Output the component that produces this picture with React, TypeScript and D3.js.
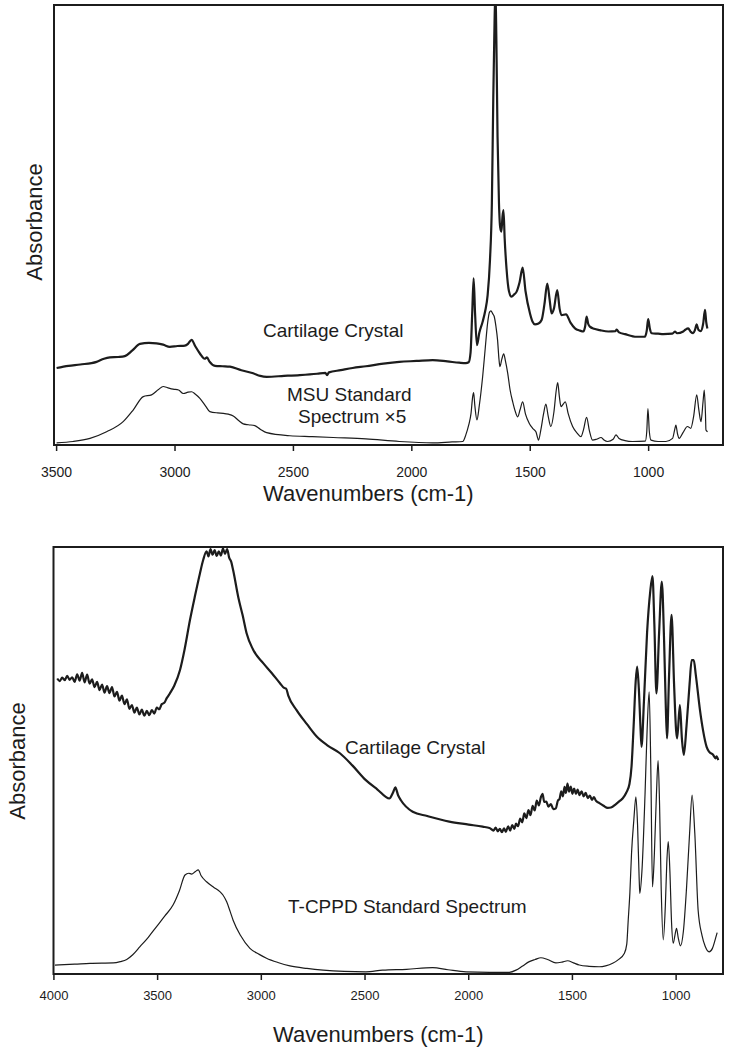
import React from "react";
import * as d3 from "d3";

// ---- top panel: MSU ----
const topTicks = [3500, 3000, 2500, 2000, 1500, 1000];

// cartilage crystal (thick), [wavenumber, absorbance 0-100 of panel height]
const topCrystal: [number, number][] = [
  [3500, 17.5], [3450, 18.0], [3400, 18.3], [3331, 18.9], [3300, 19.6], [3275, 19.9],
  [3240, 20.0], [3212, 20.2], [3180, 21.5], [3148, 23.0], [3110, 23.2], [3078, 23.1],
  [3050, 22.8], [3022, 22.3], [2990, 22.5], [2958, 22.6], [2945, 23.0], [2930, 23.9],
  [2915, 22.5], [2895, 20.8], [2875, 19.6], [2865, 19.9], [2855, 19.0], [2831, 18.0],
  [2800, 17.9], [2768, 17.8], [2720, 17.0], [2670, 16.3], [2640, 15.7], [2613, 15.5],
  [2540, 15.7], [2473, 15.9], [2400, 16.2], [2365, 16.4], [2358, 15.9], [2350, 16.5],
  [2300, 17.0], [2250, 17.5], [2194, 17.9], [2120, 18.5], [2053, 18.9], [1980, 19.1],
  [1912, 19.3], [1850, 19.0], [1800, 18.7], [1772, 18.6], [1760, 18.8], [1752, 21.0],
  [1745, 30.0], [1739, 37.9], [1733, 30.0], [1725, 22.7], [1715, 25.5], [1701, 28.0],
  [1690, 30.5], [1680, 34.0], [1670, 42.0], [1662, 55.0], [1656, 79.0], [1652, 92.0],
  [1647, 104.0], [1643, 92.0], [1638, 70.0], [1632, 55.0], [1627, 49.5], [1622, 48.5],
  [1617, 52.0], [1613, 53.4], [1608, 47.0], [1600, 40.0], [1590, 35.0], [1579, 33.7],
  [1568, 34.2], [1558, 34.8], [1545, 37.0], [1532, 40.3], [1520, 35.0], [1501, 29.9],
  [1490, 28.0], [1480, 27.4], [1465, 27.6], [1452, 28.4], [1440, 32.0], [1428, 36.7],
  [1418, 33.0], [1410, 29.9], [1400, 31.0], [1386, 35.2], [1376, 31.0], [1368, 29.5],
  [1349, 29.7], [1330, 27.8], [1311, 26.5], [1290, 26.0], [1276, 25.8], [1268, 27.0],
  [1262, 29.2], [1255, 27.5], [1248, 26.9], [1230, 26.4], [1206, 26.1], [1170, 25.8],
  [1140, 25.9], [1135, 26.2], [1125, 25.6], [1100, 25.2], [1051, 24.6], [1016, 24.6],
  [1008, 26.0], [1002, 28.6], [995, 26.5], [987, 25.4], [960, 25.3], [938, 25.2],
  [900, 25.3], [889, 25.8], [880, 25.4], [854, 25.8], [845, 26.2], [833, 26.5],
  [822, 25.7], [812, 25.4], [804, 26.2], [797, 27.4], [790, 26.2], [780, 25.9],
  [770, 27.5], [762, 30.7], [757, 28.0], [752, 26.5],
];

// MSU standard spectrum x5 (thin)
const topStandard: [number, number][] = [
  [3500, 0.5], [3430, 0.8], [3359, 1.5], [3289, 3.0], [3219, 5.3], [3176, 8.0],
  [3134, 11.0], [3099, 11.4], [3070, 12.6], [3050, 13.3], [3030, 13.0], [3008, 12.7],
  [2985, 12.5], [2965, 11.7], [2945, 12.0], [2930, 12.1], [2915, 11.6], [2895, 10.6],
  [2870, 8.8], [2853, 7.6], [2820, 7.3], [2796, 7.2], [2775, 7.0], [2754, 6.6],
  [2730, 5.5], [2712, 4.8], [2690, 4.6], [2663, 4.4], [2640, 3.6], [2613, 2.8],
  [2515, 2.1], [2420, 1.9], [2332, 1.7], [2194, 1.4], [2053, 0.8], [1912, 0.5],
  [1830, 0.7], [1785, 0.8], [1772, 2.3], [1760, 4.5], [1750, 7.2], [1743, 11.0],
  [1739, 11.9], [1734, 9.0], [1725, 5.7], [1715, 9.0], [1701, 15.5], [1690, 22.0],
  [1680, 27.7], [1672, 30.2], [1666, 30.5], [1658, 29.8], [1652, 29.2], [1645, 27.0],
  [1638, 23.9], [1632, 19.5], [1628, 17.8], [1620, 19.5], [1612, 20.7], [1605, 19.2],
  [1595, 16.3], [1585, 12.5], [1574, 9.8], [1563, 7.6], [1553, 6.4], [1543, 8.0],
  [1532, 9.8], [1520, 7.0], [1504, 4.9], [1490, 3.8], [1476, 3.0], [1468, 1.5],
  [1465, 1.1], [1455, 3.5], [1444, 7.0], [1434, 9.3], [1424, 6.5], [1413, 4.2],
  [1400, 7.5], [1390, 12.5], [1384, 14.2], [1377, 11.0], [1370, 8.7], [1362, 9.2],
  [1352, 9.8], [1340, 7.2], [1321, 4.2], [1300, 2.6], [1286, 1.9], [1275, 3.5],
  [1262, 6.3], [1250, 3.2], [1237, 1.1], [1220, 1.3], [1201, 1.7], [1190, 1.2],
  [1173, 0.8], [1150, 1.3], [1138, 2.3], [1125, 1.5], [1100, 1.0], [1068, 0.8],
  [1014, 0.9], [1008, 3.0], [1003, 8.3], [997, 3.0], [990, 1.1], [960, 0.8],
  [927, 0.8], [899, 1.5], [890, 3.5], [885, 4.5], [878, 2.5], [871, 1.5],
  [855, 2.8], [836, 4.2], [822, 3.8], [810, 6.5], [797, 11.4], [788, 8.0],
  [779, 5.3], [770, 10.0], [765, 12.5], [760, 7.0], [758, 3.4], [751, 3.0],
];

// ---- bottom panel: T-CPPD ----
const bottomTicks = [4000, 3500, 3000, 2500, 2000, 1500, 1000];

const bottomCrystal: [number, number][] = [
  [3984, 69.2], [3972, 68.6], [3960, 69.4], [3948, 68.8], [3936, 69.8], [3924, 68.9],
  [3912, 69.5], [3900, 68.4], [3888, 70.2], [3876, 68.7], [3864, 70.5], [3852, 68.3],
  [3840, 70.1], [3828, 68.0], [3816, 69.0], [3804, 67.2], [3792, 68.4], [3780, 66.5],
  [3768, 67.8], [3756, 65.9], [3744, 67.4], [3732, 65.8], [3720, 67.2], [3708, 65.0],
  [3696, 66.1], [3684, 64.0], [3672, 65.2], [3660, 63.2], [3648, 64.3], [3636, 62.1],
  [3624, 63.0], [3612, 61.2], [3600, 62.4], [3588, 60.8], [3576, 61.9], [3564, 60.5],
  [3552, 61.6], [3540, 60.6], [3528, 61.8], [3516, 61.0], [3504, 62.4], [3492, 62.0],
  [3480, 63.2], [3468, 63.5], [3456, 64.6], [3441, 65.7], [3420, 67.5], [3392, 71.2],
  [3370, 76.0], [3344, 82.9], [3320, 88.5], [3296, 93.8], [3280, 97.0], [3264, 99.0],
  [3255, 97.8], [3245, 99.5], [3235, 98.2], [3225, 99.3], [3215, 97.9], [3205, 99.0],
  [3195, 98.0], [3185, 99.6], [3175, 98.4], [3165, 99.5], [3155, 97.5], [3145, 96.5],
  [3136, 94.6], [3110, 88.0], [3090, 84.0], [3071, 79.8], [3040, 76.0], [2991, 72.8],
  [2950, 70.5], [2910, 68.1], [2890, 67.0], [2880, 66.8], [2870, 65.2], [2830, 61.8],
  [2780, 58.5], [2733, 55.6], [2680, 53.5], [2621, 51.7], [2560, 48.8], [2496, 45.4],
  [2440, 43.2], [2383, 41.1], [2365, 42.5], [2354, 43.7], [2340, 41.8], [2327, 40.7],
  [2270, 38.0], [2200, 37.0], [2094, 35.7], [2000, 35.0], [1933, 34.5], [1900, 34.2],
  [1880, 33.6], [1870, 34.3], [1860, 33.4], [1850, 34.0], [1840, 33.2], [1830, 34.1],
  [1821, 33.3], [1810, 34.6], [1800, 33.6], [1790, 34.9], [1780, 34.0], [1772, 35.2],
  [1762, 34.6], [1752, 36.4], [1742, 35.5], [1732, 37.6], [1722, 36.5], [1712, 38.4],
  [1702, 37.2], [1692, 39.4], [1682, 38.3], [1672, 40.6], [1662, 39.5], [1652, 41.4],
  [1644, 42.2], [1636, 40.3], [1626, 40.4], [1616, 39.2], [1604, 39.8], [1592, 38.6],
  [1580, 38.8], [1570, 40.6], [1562, 41.0], [1554, 42.8], [1546, 41.6], [1538, 43.8],
  [1531, 42.4], [1524, 44.6], [1516, 42.7], [1508, 43.9], [1500, 42.2], [1492, 43.4],
  [1483, 42.2], [1475, 43.2], [1466, 41.9], [1456, 42.8], [1446, 41.6], [1436, 42.4],
  [1426, 41.2], [1416, 41.8], [1406, 40.8], [1396, 41.4], [1387, 40.6], [1370, 40.0],
  [1350, 39.4], [1330, 38.9], [1314, 39.0], [1290, 39.8], [1270, 40.6], [1258, 41.1],
  [1240, 42.5], [1225, 44.5], [1215, 48.6], [1205, 58.0], [1195, 68.5], [1188, 72.0],
  [1180, 67.0], [1172, 58.0], [1167, 53.2], [1155, 64.0], [1140, 80.0], [1125, 89.5],
  [1114, 93.2], [1105, 82.0], [1095, 65.7], [1082, 80.0], [1069, 91.9], [1058, 78.0],
  [1050, 63.0], [1044, 55.2], [1034, 70.0], [1022, 84.1], [1010, 68.0], [1000, 57.0],
  [995, 55.2], [982, 63.0], [972, 55.0], [963, 51.3], [950, 58.0], [935, 68.0],
  [925, 73.5], [915, 73.5], [905, 70.0], [885, 61.8], [870, 57.0], [853, 53.2],
  [840, 52.0], [821, 51.3], [810, 50.5], [805, 51.0], [797, 50.1],
];

const bottomStandard: [number, number][] = [
  [3995, 2.1], [3900, 2.3], [3826, 2.5], [3714, 2.6], [3680, 2.9], [3649, 3.4],
  [3620, 4.5], [3585, 6.4], [3545, 8.6], [3505, 11.1], [3465, 13.6], [3425, 16.2],
  [3395, 19.5], [3368, 23.2], [3350, 23.6], [3336, 23.4], [3318, 24.0], [3304, 24.4],
  [3290, 23.0], [3264, 21.6], [3230, 20.3], [3200, 19.3], [3185, 18.5], [3167, 16.9],
  [3150, 14.6], [3136, 12.6], [3100, 9.0], [3055, 6.0], [3010, 4.6], [2975, 3.7],
  [2920, 2.7], [2862, 1.9], [2780, 1.3], [2702, 0.9], [2600, 0.6], [2496, 0.5],
  [2415, 0.9], [2300, 1.1], [2174, 1.5], [2100, 1.0], [2013, 0.5], [1900, 0.4],
  [1804, 0.4], [1772, 0.9], [1740, 1.9], [1708, 2.9], [1680, 3.4], [1652, 3.8],
  [1620, 3.4], [1580, 2.6], [1550, 2.8], [1523, 3.1], [1495, 2.6], [1467, 2.1],
  [1420, 1.8], [1371, 1.7], [1340, 1.9], [1306, 2.5], [1280, 3.3], [1250, 4.8],
  [1238, 7.0], [1231, 12.6], [1223, 19.0], [1215, 28.3], [1204, 36.0], [1194, 41.5],
  [1186, 35.0], [1178, 22.0], [1175, 18.9], [1165, 24.0], [1150, 42.0], [1140, 57.0],
  [1130, 66.1], [1122, 48.0], [1114, 20.4], [1105, 28.0], [1095, 42.0], [1087, 50.0],
  [1080, 40.0], [1072, 20.0], [1062, 8.0], [1052, 16.0], [1045, 26.0], [1038, 31.0],
  [1030, 24.0], [1022, 12.0], [1014, 7.2], [1006, 9.0], [998, 10.7], [990, 8.5],
  [979, 6.6], [965, 10.0], [950, 20.0], [935, 33.0], [923, 41.9], [910, 33.0],
  [894, 15.0], [875, 9.0], [860, 6.5], [841, 5.2], [825, 6.0], [812, 8.0], [802, 9.7],
];

const INK = "#1c1c1c";
const FONT = "'Liberation Sans', Arial, Helvetica, sans-serif";

type PanelProps = {
  id: string;
  left: number; right: number; top: number; bottom: number;
  domain: [number, number];
  ticks: number[];
  tickSize: number; tickFont: number; tickBaseline: number;
  titleX: number; titleBaseline: number;
  yLabelX: number; yLabelY: number;
  crystal: [number, number][];
  standard: [number, number][];
  children?: React.ReactNode;
};

const Panel = (p: PanelProps) => {
  const x = d3.scaleLinear().domain(p.domain).range([p.left, p.right]);
  const y = d3.scaleLinear().domain([0, 100]).range([p.bottom, p.top]);
  const line = d3
    .line<[number, number]>()
    .x((d) => x(d[0]))
    .y((d) => y(d[1]))
    .curve(d3.curveMonotoneX);

  return (
    <g>
      <defs>
        <clipPath id={p.id}>
          <rect x={p.left} y={p.top} width={p.right - p.left} height={p.bottom - p.top} />
        </clipPath>
      </defs>
      <g clipPath={`url(#${p.id})`} fill="none" stroke={INK} strokeLinejoin="round">
        <path d={line(p.standard) ?? ""} strokeWidth={1.2} />
        <path d={line(p.crystal) ?? ""} strokeWidth={2.2} />
      </g>
      <rect
        x={p.left} y={p.top} width={p.right - p.left} height={p.bottom - p.top}
        fill="none" stroke={INK} strokeWidth={2}
      />
      {p.ticks.map((t) => (
        <g key={t}>
          <line x1={x(t)} x2={x(t)} y1={p.bottom} y2={p.bottom + 6} stroke={INK} strokeWidth={1.5} />
          <text
            x={x(t)} y={p.tickBaseline} textAnchor="middle"
            fontSize={p.tickFont} fontFamily={FONT} fill={INK}
          >
            {t}
          </text>
        </g>
      ))}
      <text x={p.titleX} y={p.titleBaseline} fontSize={22} fontFamily={FONT} fill={INK}>
        Wavenumbers (cm-1)
      </text>
      <text
        transform={`translate(${p.yLabelX},${p.yLabelY}) rotate(-90)`}
        textAnchor="middle" fontSize={22} fontFamily={FONT} fill={INK}
      >
        Absorbance
      </text>
      {p.children}
    </g>
  );
};

export default function App() {
  const labelStyle = { fontSize: 19, fontFamily: FONT, fill: INK };
  return (
    <svg
      width={732}
      height={1050}
      style={{ position: "absolute", left: 0, top: 0, background: "#fff" }}
    >
      <Panel
        id="clipTop"
        left={54} right={723} top={5} bottom={445}
        domain={[3511, 686]}
        ticks={topTicks}
        tickSize={6} tickFont={14} tickBaseline={476.5}
        titleX={263} titleBaseline={501}
        yLabelX={41.5} yLabelY={222}
        crystal={topCrystal}
        standard={topStandard}
      >
        <text x={263} y={337} {...labelStyle}>Cartilage Crystal</text>
        <text x={287} y={400.5} {...labelStyle}>MSU Standard</text>
        <text x={298} y={423} {...labelStyle}>Spectrum ×5</text>
      </Panel>
      <Panel
        id="clipBottom"
        left={53.5} right={723} top={547} bottom={974}
        domain={[4002, 774]}
        ticks={bottomTicks}
        tickSize={7} tickFont={13} tickBaseline={1000}
        titleX={273} titleBaseline={1041.5}
        yLabelX={25} yLabelY={761}
        crystal={bottomCrystal}
        standard={bottomStandard}
      >
        <text x={345} y={754} {...labelStyle}>Cartilage Crystal</text>
        <text x={288} y={913} {...labelStyle}>T-CPPD Standard Spectrum</text>
      </Panel>
    </svg>
  );
}
